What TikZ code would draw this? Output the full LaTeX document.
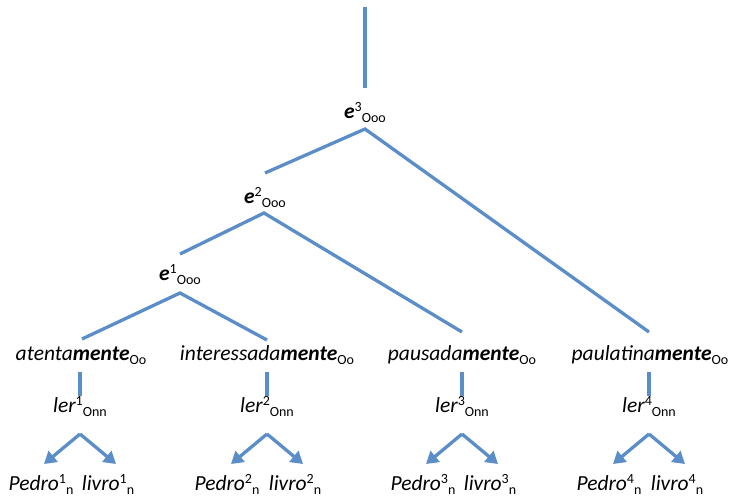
\documentclass[tikz,border=0pt]{standalone}
\usepackage{fontspec}
\setmainfont{Carlito}
\usepackage{tikz}
\usetikzlibrary{arrows.meta}
\definecolor{treeblue}{RGB}{91,142,200}
\newcommand{\up}[1]{\raisebox{0.28em}{\fontsize{14}{14}\selectfont\upshape\mdseries #1}}
\newcommand{\dn}[1]{\raisebox{-0.22em}{\fontsize{14}{14}\selectfont\upshape\mdseries #1}}

\begin{document}
\begin{tikzpicture}[x=1pt,y=-1pt,
    lbl/.style={anchor=base,inner sep=0pt,font=\fontsize{21.5}{25}\selectfont\itshape},
    branch/.style={draw=treeblue,line width=3.3pt},
    arg/.style={branch,-{Triangle[length=12pt,width=14pt]}}]
    \useasboundingbox (0,0) rectangle (733,503);

    % events
    \node[lbl] (E3) at (365,118) {\textbf{e}\up{3}\dn{Ooo}};
    \node[lbl] (E2) at (265,203) {\textbf{e}\up{2}\dn{Ooo}};
    \node[lbl] (E1) at (180,280) {\textbf{e}\up{1}\dn{Ooo}};

    % adverbs
    \node[lbl] (M1) at (81,360) {atenta\textbf{mente}\dn{Oo}};
    \node[lbl] (M2) at (267,360) {interessada\textbf{mente}\dn{Oo}};
    \node[lbl] (M3) at (462,360) {pausada\textbf{mente}\dn{Oo}};
    \node[lbl] (M4) at (650,360) {paulatina\textbf{mente}\dn{Oo}};

    % verbs
    \node[lbl] (L1) at (80,412) {ler\up{1}\dn{Onn}};
    \node[lbl] (L2) at (267,412) {ler\up{2}\dn{Onn}};
    \node[lbl] (L3) at (462,412) {ler\up{3}\dn{Onn}};
    \node[lbl] (L4) at (649,412) {ler\up{4}\dn{Onn}};

    % arguments
    \node[lbl] (P1) at (41,490) {Pedro\up{1}\dn{n}};
    \node[lbl] (V1) at (108,490) {livro\up{1}\dn{n}};
    \node[lbl] (P2) at (227,490) {Pedro\up{2}\dn{n}};
    \node[lbl] (V2) at (295,490) {livro\up{2}\dn{n}};
    \node[lbl] (P3) at (423,490) {Pedro\up{3}\dn{n}};
    \node[lbl] (V3) at (490,490) {livro\up{3}\dn{n}};
    \node[lbl] (P4) at (609,490) {Pedro\up{4}\dn{n}};
    \node[lbl] (V4) at (677,490) {livro\up{4}\dn{n}};

    % branching points
    \coordinate (root) at (365,7);
    \coordinate (E3up) at (365,88);
    \coordinate (E3a) at (365,129);
    \coordinate (E2up) at (265,173);
    \coordinate (E2a) at (264,213);
    \coordinate (E1up) at (180,254);
    \coordinate (E1a) at (180,293);
    \coordinate (M1up) at (82,339);
    \coordinate (M2up) at (267,340);
    \coordinate (M3up) at (462,332);
    \coordinate (M4up) at (649,332);
    \coordinate (M1dn) at (80,372);
    \coordinate (M2dn) at (267,372);
    \coordinate (M3dn) at (462,372);
    \coordinate (M4dn) at (649,372);
    \coordinate (L1up) at (80,396);
    \coordinate (L2up) at (267,396);
    \coordinate (L3up) at (462,396);
    \coordinate (L4up) at (649,396);
    \coordinate (L1a) at (80,434);
    \coordinate (L2a) at (267,434);
    \coordinate (L3a) at (462,434);
    \coordinate (L4a) at (649,434);
    \coordinate (P1up) at (44,464);
    \coordinate (V1up) at (116,464);
    \coordinate (P2up) at (231,464);
    \coordinate (V2up) at (303,464);
    \coordinate (P3up) at (426,464);
    \coordinate (V3up) at (498,464);
    \coordinate (P4up) at (613,464);
    \coordinate (V4up) at (685,464);

    % tree
    \draw[branch] (root) -- (E3up);
    \draw[branch] (E2up) -- (E3a) -- (M4up);
    \draw[branch] (E1up) -- (E2a) -- (M3up);
    \draw[branch] (M1up) -- (E1a) -- (M2up);
    \draw[branch] (M1dn) -- (L1up);
    \draw[branch] (M2dn) -- (L2up);
    \draw[branch] (M3dn) -- (L3up);
    \draw[branch] (M4dn) -- (L4up);

    % arguments of ler
    \draw[arg] (L1a) -- (P1up);
    \draw[arg] (L1a) -- (V1up);
    \draw[arg] (L2a) -- (P2up);
    \draw[arg] (L2a) -- (V2up);
    \draw[arg] (L3a) -- (P3up);
    \draw[arg] (L3a) -- (V3up);
    \draw[arg] (L4a) -- (P4up);
    \draw[arg] (L4a) -- (V4up);
\end{tikzpicture}
\end{document}
